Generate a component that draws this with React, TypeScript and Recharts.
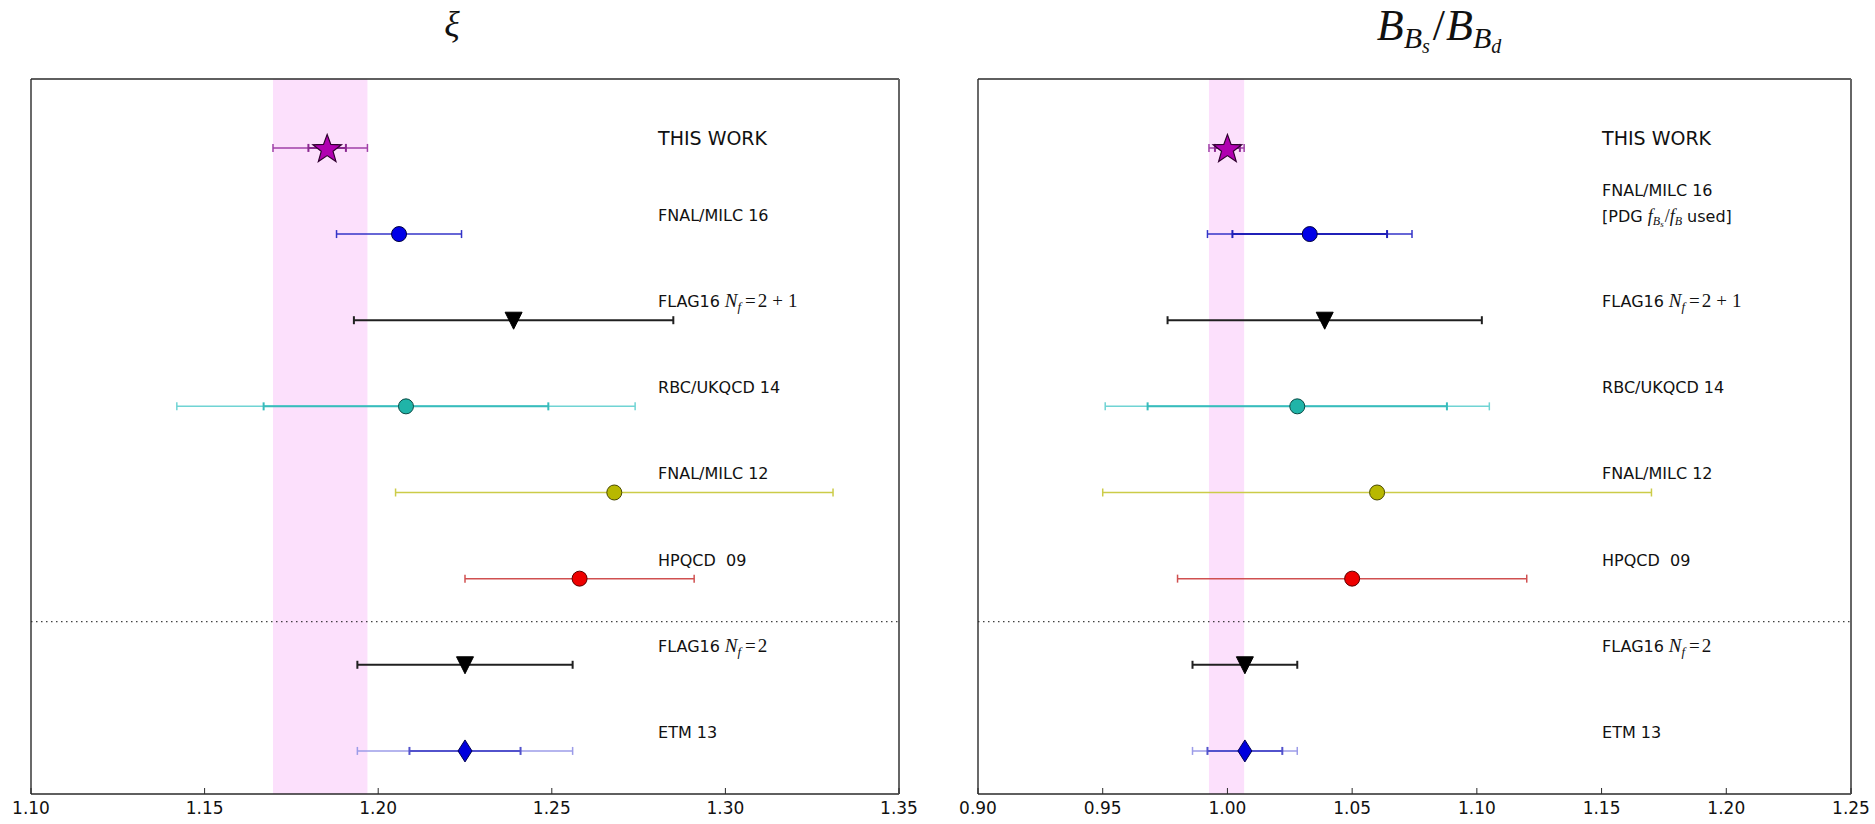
import React from "react";
import {
  ScatterChart,
  Scatter,
  XAxis,
  YAxis,
  ErrorBar,
  ReferenceArea,
  ReferenceLine,
  ReferenceDot,
} from "recharts";

// ---- data -------------------------------------------------------------
const studies = [
  "THIS WORK",
  "FNAL/MILC 16",
  "FLAG16",
  "RBC/UKQCD 14",
  "FNAL/MILC 12",
  "HPQCD  09",
  "FLAG16",
  "ETM 13",
];
const flavours: (string | null)[] = [null, null, "2+1", null, null, null, "2", null];
const rowPositions = [8, 7, 6, 5, 4, 3, 2, 1];
const groupDivider = 2.5;
const rowDomain: [number, number] = [0.5, 8.8];

// xi = f_Bs sqrt(B_Bs) / f_B sqrt(B_Bd)
const xiTicks = [1.1, 1.15, 1.2, 1.25, 1.3, 1.35];
const xiCentral = [1.1853, 1.206, 1.239, 1.208, 1.268, 1.258, 1.225, 1.225];
const xiInner: (number | null)[] = [0.0054, null, null, 0.041, null, null, null, 0.016];
const xiTotal: [number, number][] = [
  [0.0156, 0.0116],
  [0.018, 0.018],
  [0.046, 0.046],
  [0.066, 0.066],
  [0.063, 0.063],
  [0.033, 0.033],
  [0.031, 0.031],
  [0.031, 0.031],
];

// B_Bs / B_Bd
const bbTicks = [0.9, 0.95, 1.0, 1.05, 1.1, 1.15, 1.2, 1.25];
const bbCentral = [1.0, 1.033, 1.039, 1.028, 1.06, 1.05, 1.007, 1.007];
const bbInner: (number | null)[] = [0.005, 0.031, null, 0.06, null, null, null, 0.015];
const bbTotal: [number, number][] = [
  [0.0074, 0.0067],
  [0.041, 0.041],
  [0.063, 0.063],
  [0.077, 0.077],
  [0.11, 0.11],
  [0.07, 0.07],
  [0.021, 0.021],
  [0.021, 0.021],
];

// ---- styles -----------------------------------------------------------
type MarkerKind = "star" | "circle" | "tri" | "diamond";
interface RowStyle {
  shape: MarkerKind;
  fill: string;
  edge: string;
  bar: string;
  innerBar?: string;
  barWidth?: number;
}
const rowStyles: RowStyle[] = [
  { shape: "star", fill: "#b000b0", edge: "#300030", bar: "#a040a8", innerBar: "#8a2890" },
  { shape: "circle", fill: "#0000e8", edge: "#000040", bar: "#3434c8", innerBar: "#2020b8" },
  { shape: "tri", fill: "#000000", edge: "#000000", bar: "#202020", barWidth: 2 },
  { shape: "circle", fill: "#20b4a8", edge: "#0a4a44", bar: "#70d4d4", innerBar: "#38bcbc" },
  { shape: "circle", fill: "#b8b800", edge: "#484800", bar: "#cccc48" },
  { shape: "circle", fill: "#ee0000", edge: "#5a0000", bar: "#d05050" },
  { shape: "tri", fill: "#000000", edge: "#000000", bar: "#202020", barWidth: 2 },
  { shape: "diamond", fill: "#0000dd", edge: "#000050", bar: "#9c9ce8", innerBar: "#5252cc" },
];

const FRAME = "#2a2a2a";
const SANS = "DejaVu Sans";
const MATH = "Liberation Serif";

// ---- marker shapes ----------------------------------------------------
function renderMarker(style: RowStyle) {
  return (p: any) => {
    const cx = p.cx as number;
    const cy = p.cy as number;
    if (style.shape === "circle") {
      return <circle cx={cx} cy={cy} r={7.5} fill={style.fill} stroke={style.edge} strokeWidth={1} />;
    }
    if (style.shape === "tri") {
      const pts = `${cx - 8.5},${cy - 8} ${cx + 8.5},${cy - 8} ${cx},${cy + 9}`;
      return <polygon points={pts} fill={style.fill} stroke={style.edge} strokeWidth={1} />;
    }
    if (style.shape === "diamond") {
      const pts = `${cx},${cy - 11} ${cx + 7},${cy} ${cx},${cy + 11} ${cx - 7},${cy}`;
      return <polygon points={pts} fill={style.fill} stroke={style.edge} strokeWidth={1} />;
    }
    const outer = 15;
    const inner = 6.2;
    const pts: string[] = [];
    for (let k = 0; k < 10; k++) {
      const r = k % 2 === 0 ? outer : inner;
      const a = -Math.PI / 2 + (k * Math.PI) / 5;
      pts.push(`${cx + r * Math.cos(a)},${cy + r * Math.sin(a) + 1.5}`);
    }
    return <polygon points={pts.join(" ")} fill={style.fill} stroke={style.edge} strokeWidth={1.2} />;
  };
}

// ---- axis ticks (drawn inward, like a boxed frame) --------------------
const BottomTick = (p: any) => (
  <g>
    <line x1={p.x} x2={p.x} y1={p.y} y2={p.y - 6} stroke={FRAME} strokeWidth={1} />
    <text x={p.x} y={p.y + 20} textAnchor="middle" fontFamily={SANS} fontSize={17} fill="#111">
      {Number(p.payload.value).toFixed(2)}
    </text>
  </g>
);
const TopTick = (p: any) => (
  <line x1={p.x} x2={p.x} y1={p.y} y2={p.y + 6} stroke={FRAME} strokeWidth={1} />
);

// ---- row labels -------------------------------------------------------
function flavourTspans(flav: string) {
  const parts = flav.split("+");
  return (
    <>
      <tspan fontFamily={MATH} fontStyle="italic" fontSize={19}>{" N"}</tspan>
      <tspan fontFamily={MATH} fontStyle="italic" fontSize={13} dy={4}>f</tspan>
      <tspan fontFamily={MATH} fontSize={19} dy={-4} dx={4}>=</tspan>
      <tspan fontFamily={MATH} fontSize={19} dx={2}>{parts[0]}</tspan>
      {parts.length > 1 ? (
        <>
          <tspan fontFamily={MATH} fontSize={19} dx={5}>+</tspan>
          <tspan fontFamily={MATH} fontSize={19} dx={5}>{parts[1]}</tspan>
        </>
      ) : null}
    </>
  );
}

function makeLabel(i: number, withPdgNote: boolean) {
  return (props: any) => {
    const vb = props.viewBox || {};
    const x = vb.x as number;
    const y = vb.y as number;
    if (i === 0) {
      return (
        <text x={x} y={y - 3} fontFamily={SANS} fontSize={19} fill="#111">
          {studies[i]}
        </text>
      );
    }
    if (withPdgNote && i === 1) {
      return (
        <g>
          <text x={x} y={y - 38} fontFamily={SANS} fontSize={16} fill="#111">
            {studies[i]}
          </text>
          <text x={x} y={y - 12} fontFamily={SANS} fontSize={16} fill="#111" style={{ whiteSpace: "pre" }}>
            {"[PDG "}
            <tspan fontFamily={MATH} fontStyle="italic" fontSize={18}>f</tspan>
            <tspan fontFamily={MATH} fontStyle="italic" fontSize={12} dy={3}>B</tspan>
            <tspan fontFamily={MATH} fontStyle="italic" fontSize={9} dy={2}>s</tspan>
            <tspan fontFamily={MATH} fontSize={18} dy={-5} dx={1}>/</tspan>
            <tspan fontFamily={MATH} fontStyle="italic" fontSize={18}>f</tspan>
            <tspan fontFamily={MATH} fontStyle="italic" fontSize={12} dy={3}>B</tspan>
            <tspan dy={-3}>{" used]"}</tspan>
          </text>
        </g>
      );
    }
    const flav = flavours[i];
    return (
      <text x={x} y={y - 13} fontFamily={SANS} fontSize={16} fill="#111" style={{ whiteSpace: "pre" }}>
        {studies[i]}
        {flav ? flavourTspans(flav) : null}
      </text>
    );
  };
}

// ---- one panel --------------------------------------------------------
interface PanelProps {
  left: number;
  width: number;
  plotLeft: number;
  plotRight: number;
  ticks: number[];
  central: number[];
  inner: (number | null)[];
  total: [number, number][];
  labelX: number;
  pdgNote: boolean;
}

function Panel({ left, width, plotLeft, plotRight, ticks, central, inner, total, labelX, pdgNote }: PanelProps) {
  const domain: [number, number] = [ticks[0], ticks[ticks.length - 1]];
  const bandLo = central[0] - total[0][0];
  const bandHi = central[0] + total[0][1];
  // each axis occupies one pixel of the margin
  return (
    <div style={{ position: "absolute", left, top: 0 }}>
      <ScatterChart
        width={width}
        height={824}
        margin={{ top: 78, left: plotLeft - 1, right: width - plotRight - 1, bottom: 29 }}
      >
        <XAxis
          xAxisId="bottom"
          type="number"
          dataKey="x"
          domain={domain}
          ticks={ticks}
          interval={0}
          height={1}
          tickSize={0}
          tickMargin={0}
          tickLine={false}
          axisLine={{ stroke: FRAME, strokeWidth: 1.4 }}
          tick={BottomTick}
        />
        <XAxis
          xAxisId="top"
          orientation="top"
          type="number"
          domain={domain}
          ticks={ticks}
          interval={0}
          height={1}
          tickSize={0}
          tickMargin={0}
          tickLine={false}
          axisLine={{ stroke: FRAME, strokeWidth: 1.4 }}
          tick={TopTick}
        />
        <YAxis
          yAxisId="left"
          type="number"
          dataKey="y"
          domain={rowDomain}
          width={1}
          tick={false}
          tickLine={false}
          axisLine={{ stroke: FRAME, strokeWidth: 1.4 }}
        />
        <YAxis
          yAxisId="right"
          orientation="right"
          type="number"
          domain={rowDomain}
          width={1}
          tick={false}
          tickLine={false}
          axisLine={{ stroke: "#666", strokeWidth: 2 }}
        />

        <ReferenceLine
          xAxisId="bottom"
          yAxisId="left"
          y={groupDivider}
          stroke="#111"
          strokeWidth={1}
          strokeDasharray="1.5 3.5"
        />

        {central.map((v, i) => {
          const st = rowStyles[i];
          const point = { x: v, y: rowPositions[i], inner: inner[i], total: total[i] };
          return (
            <Scatter
              key={i}
              xAxisId="bottom"
              yAxisId="left"
              data={[point]}
              isAnimationActive={false}
              shape={renderMarker(st)}
            >
              <ErrorBar
                dataKey="total"
                direction="x"
                width={4}
                stroke={st.bar}
                strokeWidth={st.barWidth ?? 1.5}
                isAnimationActive={false}
              />
              {inner[i] != null ? (
                <ErrorBar
                  dataKey="inner"
                  direction="x"
                  width={4}
                  stroke={st.innerBar ?? st.bar}
                  strokeWidth={2}
                  isAnimationActive={false}
                />
              ) : null}
            </Scatter>
          );
        })}

        <ReferenceArea
          xAxisId="bottom"
          yAxisId="left"
          x1={bandLo}
          x2={bandHi}
          fill="#f070f0"
          fillOpacity={0.22}
          stroke="none"
        />

        {rowPositions.map((y, i) => (
          <ReferenceDot
            key={"lbl" + i}
            xAxisId="bottom"
            yAxisId="left"
            x={labelX}
            y={y}
            r={0}
            fill="none"
            stroke="none"
            ifOverflow="visible"
            label={makeLabel(i, pdgNote)}
          />
        ))}
      </ScatterChart>
    </div>
  );
}

export default function App() {
  return (
    <div style={{ position: "absolute", left: 0, top: 0, width: 1875, height: 824, background: "#fff" }}>
      <Panel
        left={0}
        width={940}
        plotLeft={31}
        plotRight={899}
        ticks={xiTicks}
        central={xiCentral}
        inner={xiInner}
        total={xiTotal}
        labelX={1.2806}
        pdgNote={false}
      />
      <Panel
        left={940}
        width={935}
        plotLeft={38}
        plotRight={911}
        ticks={bbTicks}
        central={bbCentral}
        inner={bbInner}
        total={bbTotal}
        labelX={1.1502}
        pdgNote={true}
      />
      <svg
        width={1875}
        height={70}
        style={{ position: "absolute", left: 0, top: 0, pointerEvents: "none" }}
      >
        <text x={452} y={36} textAnchor="middle" fontFamily={MATH} fontStyle="italic" fontSize={36} fill="#111">
          ξ
        </text>
        <text x={1439} y={40} textAnchor="middle" fontFamily={MATH} fontStyle="italic" fontSize={44} fill="#111">
          <tspan>B</tspan>
          <tspan fontSize={30} dy={8}>B</tspan>
          <tspan fontSize={20} dy={5}>s</tspan>
          <tspan fontStyle="normal" dy={-13} dx={3}>/</tspan>
          <tspan dx={1}>B</tspan>
          <tspan fontSize={30} dy={8}>B</tspan>
          <tspan fontSize={20} dy={5}>d</tspan>
        </text>
      </svg>
    </div>
  );
}
